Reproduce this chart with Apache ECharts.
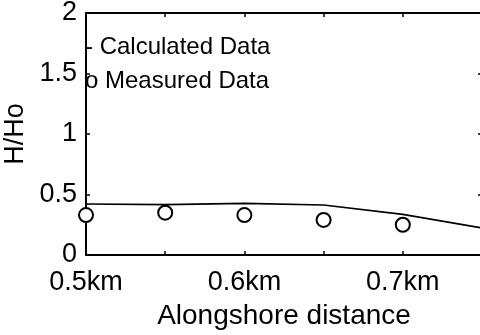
<!DOCTYPE html>
<html>
<head>
<meta charset="utf-8">
<script src="https://cdn.jsdelivr.net/npm/echarts@6/dist/echarts.min.js"></script>
<style>
html,body{margin:0;padding:0;background:#fff;}
#chart{width:480px;height:335px;}
</style>
</head>
<body>
<div id="chart"></div>
<script>
// Data
const calcX = [0.5, 0.55, 0.6, 0.65, 0.7, 0.75];
const calcY = [0.421, 0.416, 0.427, 0.413, 0.336, 0.223];
const measX = [0.5, 0.55, 0.6, 0.65, 0.7];
const measY = [0.33, 0.35, 0.33, 0.29, 0.25];
const seriesNames = ['Calculated Data', 'Measured Data'];
const legendPrefix = ['-', 'o'];
const xTitle = 'Alongshore distance';
const yTitle = 'H/Ho';

const font = '"Liberation Sans", Arial, sans-serif';
const chart = echarts.init(document.getElementById('chart'), null, {renderer: 'canvas'});

const axisLine = {show: true, onZero: false, lineStyle: {color: '#000', width: 2}};
const tickIn = {show: true, inside: true, length: 4, lineStyle: {color: '#000', width: 1.5}};

chart.setOption({
  animation: false,
  backgroundColor: '#fff',
  grid: {left: 86, right: -2, top: 13, bottom: 80, containLabel: false, outerBoundsMode: 'none'},
  legend: {
    orient: 'vertical',
    left: 74,
    top: 30,
    itemWidth: 0,
    itemHeight: 0,
    itemGap: 10,
    icon: 'rect',
    data: seriesNames,
    formatter: function (name) {
      return legendPrefix[seriesNames.indexOf(name)] + ' ' + name;
    },
    textStyle: {fontFamily: font, fontSize: 24, color: '#000'},
    selectedMode: false
  },
  xAxis: [
    {
      type: 'value', min: 0.5, max: 0.75, interval: 0.05,
      position: 'bottom',
      axisLine: axisLine, axisTick: tickIn, splitLine: {show: false},
      axisLabel: {
        margin: 14, fontFamily: font, fontSize: 27, color: '#000',
        showMaxLabel: false,
        formatter: function (v) {
          const r = Math.round(v * 100);
          return r % 10 === 0 ? (r / 100).toFixed(1) + 'km' : '';
        }
      },
      name: xTitle, nameLocation: 'middle', nameGap: 47,
      nameTextStyle: {fontFamily: font, fontSize: 28, color: '#000'}
    },
    {
      type: 'value', min: 0.5, max: 0.75, interval: 0.05,
      position: 'top',
      axisLine: axisLine, axisTick: tickIn, splitLine: {show: false},
      axisLabel: {show: false}
    }
  ],
  yAxis: [
    {
      type: 'value', min: 0, max: 2, interval: 0.5,
      position: 'left',
      axisLine: axisLine, axisTick: tickIn, splitLine: {show: false},
      axisLabel: {margin: 9, padding: [6, 0, 0, 0], fontFamily: font, fontSize: 27, color: '#000'},
      name: yTitle, nameLocation: 'middle', nameGap: 51, nameRotate: 90,
      nameTextStyle: {fontFamily: font, fontSize: 27, color: '#000'}
    },
    {
      type: 'value', min: 0, max: 2, interval: 0.5,
      position: 'right',
      axisLine: axisLine, axisTick: tickIn, splitLine: {show: false},
      axisLabel: {show: false}
    }
  ],
  series: [
    {
      name: seriesNames[0],
      type: 'line',
      data: calcX.map((x, i) => [x, calcY[i]]),
      showSymbol: false,
      symbol: 'none',
      lineStyle: {color: '#000', width: 1.6},
      itemStyle: {color: '#000'},
      clip: false
    },
    {
      name: seriesNames[1],
      type: 'line',
      data: measX.map((x, i) => [x, measY[i]]),
      symbol: 'emptyCircle',
      symbolSize: 14,
      lineStyle: {width: 0, opacity: 0},
      itemStyle: {color: '#000', borderColor: '#000', borderWidth: 1.3},
      clip: false
    }
  ]
});
</script>
</body>
</html>
